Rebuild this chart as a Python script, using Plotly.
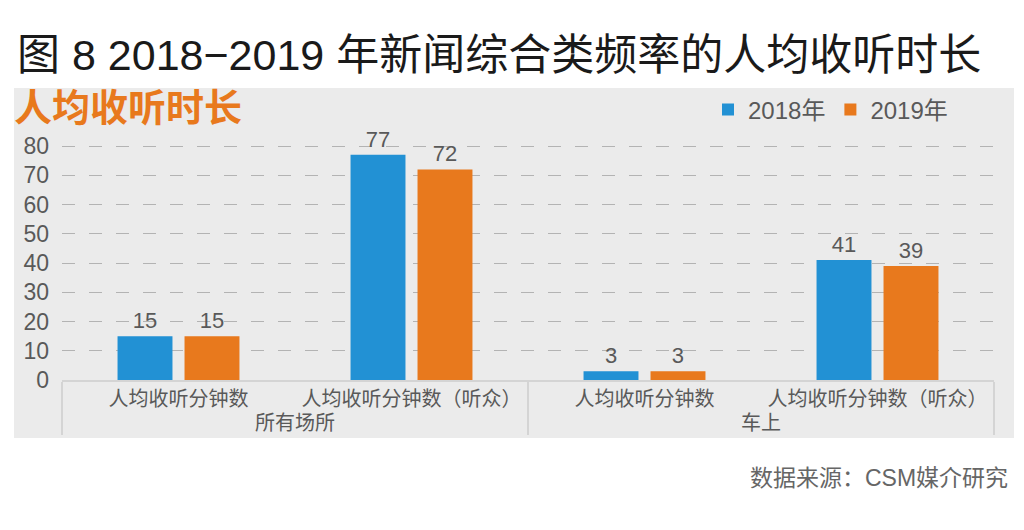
import plotly.graph_objects as go

# ---- data ----
outer_cats = ["所有场所", "所有场所", "车上", "车上"]
inner_cats = ["人均收听分钟数", "人均收听分钟数（听众）", "人均收听分钟数", "人均收听分钟数（听众）"]
series_names = ["2018年", "2019年"]
values_2018 = [15, 77, 3, 41]
values_2019 = [15, 72, 3, 39]
y_ticks = [0, 10, 20, 30, 40, 50, 60, 70, 80]

title_text = "图 8 2018−2019 年新闻综合类频率的人均收听时长"
subtitle_text = "人均收听时长"
source_text = "数据来源：CSM媒介研究"

# ---- layout helpers (pixel geometry, in reference-image pixels) ----
OFF = 8  # page body margin offset
W, H = 1024 - OFF, 530 - OFF
PL, PR, PT, PB = 62 - OFF, 994 - OFF, 144 - OFF, 380 - OFF  # plot area in figure px


def px_x(p):
    return (p - OFF - PL) / (PR - PL)


def px_y(p):
    return (PB - (p - OFF)) / (PB - PT)


FONT = "Liberation Sans, Noto Sans CJK SC, sans-serif"
GREY_TXT = "#595959"
BLUE = "#2291d4"
ORANGE = "#e8791d"

fig = go.Figure()
fig.add_trace(go.Bar(
    name=series_names[0], x=[outer_cats, inner_cats], y=values_2018,
    marker=dict(color=BLUE, line=dict(width=0)),
    text=values_2018, textposition="outside", cliponaxis=False,
    textfont=dict(size=22, color=GREY_TXT, family=FONT),
))
fig.add_trace(go.Bar(
    name=series_names[1], x=[outer_cats, inner_cats], y=values_2019,
    marker=dict(color=ORANGE, line=dict(width=0)),
    text=values_2019, textposition="outside", cliponaxis=False,
    textfont=dict(size=22, color=GREY_TXT, family=FONT),
))

# grey panel
fig.add_shape(type="rect", xref="paper", yref="paper",
              x0=px_x(14), x1=px_x(1014), y0=px_y(438), y1=px_y(88),
              fillcolor="#ebebeb", line=dict(width=0), layer="below")

fig.update_layout(
    width=W, height=H,
    margin=dict(l=PL, r=W - PR, t=PT, b=H - PB, pad=0),
    paper_bgcolor="white", plot_bgcolor="rgba(0,0,0,0)",
    barmode="group", bargap=0.425, bargroupgap=0.18,
    font=dict(family=FONT, color=GREY_TXT),
    title=dict(text=title_text, x=(17 - OFF) / W, xanchor="left",
               y=1 - (55 - OFF) / H, yanchor="middle", yref="container",
               font=dict(size=43, color="#1a1a1a", family=FONT)),
    legend=dict(orientation="h", x=px_x(708), y=px_y(110), xanchor="left", yanchor="middle",
                font=dict(size=24, color=GREY_TXT, family=FONT),
                bgcolor="rgba(0,0,0,0)", itemwidth=30, traceorder="normal"),
    showlegend=True,
)

fig.update_yaxes(range=[0, 80.7], tickvals=y_ticks, showgrid=True,
                 gridcolor="#b3b3b3", gridwidth=1.3, griddash="13px,14px",
                 zeroline=False, showline=False, ticks="",
                 ticklabelstandoff=12, automargin=False,
                 tickfont=dict(size=23, color=GREY_TXT, family=FONT))
fig.update_xaxes(showline=True, linecolor="#d4d4d4", linewidth=2,
                 showdividers=True, dividercolor="#d4d4d4", dividerwidth=2,
                 ticks="", showgrid=False, automargin=False,
                 tickfont=dict(size=20, color=GREY_TXT, family=FONT))

fig.add_annotation(text=f"<b>{subtitle_text}</b>", xref="paper", yref="paper",
                   x=px_x(12), y=px_y(108), xanchor="left", yanchor="middle",
                   showarrow=False, font=dict(size=38, color=ORANGE, family=FONT))
fig.add_annotation(text=source_text, xref="paper", yref="paper",
                   x=px_x(1010), y=px_y(478), xanchor="right", yanchor="middle",
                   showarrow=False, font=dict(size=23, color="#666666", family=FONT))

fig.write_html("out.html")
